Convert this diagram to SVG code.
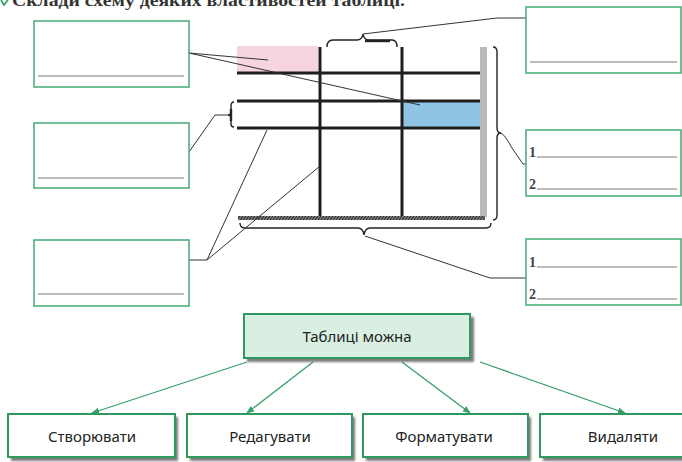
<svg xmlns="http://www.w3.org/2000/svg" width="682" height="462" viewBox="0 0 682 462">
<defs>
<style>
.box{fill:#fff;stroke:#4fb07e;stroke-width:1.6}
.wline{stroke:#666;stroke-width:0.9}
.num{font-family:"Liberation Serif",serif;font-size:14px;font-weight:bold;fill:#444}
.grid{stroke:#1e1e1e;stroke-width:3}
.thin{fill:none;stroke:#333;stroke-width:1}
.brace{fill:none;stroke:#222;stroke-width:1.4}
.node{fill:#fff;stroke:#2f9a5e;stroke-width:2}
.shadow{fill:#444;opacity:0.7}
.lbl{font-family:"Noto Sans",sans-serif;font-size:15px;fill:#222;text-anchor:middle}
.arr{stroke:#36a067;stroke-width:1.3;fill:none;marker-end:url(#ah)}
</style>
<marker id="ah" viewBox="0 0 10 10" refX="9" refY="5" markerWidth="8" markerHeight="8" orient="auto" markerUnits="userSpaceOnUse">
<path d="M0,1 L10,5 L0,9 z" fill="#36a067"/>
</marker>
<filter id="blur" x="-10%" y="-10%" width="130%" height="140%"><feGaussianBlur stdDeviation="1.2"/></filter>
<pattern id="hatch" width="3" height="4" patternUnits="userSpaceOnUse">
<rect width="3" height="4" fill="#777"/>
<path d="M0,4 L3,0" stroke="#222" stroke-width="1"/>
</pattern>
</defs>

<g id="title">
<path d="M1,0 L4,5 L8,0" fill="none" stroke="#3aa06a" stroke-width="1.8"/>
<text x="12" y="6" font-family="Liberation Serif,serif" font-weight="bold" font-size="17" fill="#333" textLength="393" lengthAdjust="spacingAndGlyphs">Склади схему деяких властивостей таблиці.</text>
</g>

<g id="table">
<rect x="237" y="46" width="81" height="27" fill="#f6d4e1"/>
<rect x="402" y="101" width="78" height="27" fill="#8fc4e4"/>
<rect x="480" y="47" width="7" height="170" fill="#b9b9be"/>
<line class="grid" x1="237" y1="73" x2="480" y2="73"/>
<line class="grid" x1="237" y1="101" x2="480" y2="101"/>
<line class="grid" x1="237" y1="128" x2="480" y2="128" stroke-width="2.5"/>
<line class="grid" x1="320" y1="47" x2="320" y2="217"/>
<line class="grid" x1="402" y1="47" x2="402" y2="217"/>
<rect x="238" y="216" width="247" height="4" fill="url(#hatch)"/>
</g>

<g id="braces">
<path class="brace" d="M327,47 Q327,40 333,40 L357,40 Q362,40 363,34 Q364,40 369,40 L392,40 Q397,40 397,47"/>
<path d="M365,41 L390,41" stroke="#222" stroke-width="2.4"/>
<path class="brace" d="M493,47 Q497,47 497,52 L497,128 Q497,133 501,133 Q497,133 497,138 L497,215 Q497,220 493,220"/>
<path class="brace" d="M240,223 Q240,228 245,228 L358,228 Q363,228 364,235 Q365,228 370,228 L486,228 Q491,228 491,223"/>
<path class="brace" d="M234,102 Q231,102 231,106 L231,112 Q231,115 228,115 Q231,115 231,118 L231,124 Q231,127 234,127"/>
<path d="M231,109 L231,121" stroke="#222" stroke-width="2.4"/>
</g>

<g id="connectors">
<path class="thin" d="M189,53 L268,60"/>
<path class="thin" d="M189,53 L420,105"/>
<path class="thin" d="M189,152 L215,115 L228,115"/>
<path class="thin" d="M189,260 L207,260 L267,130"/>
<path class="thin" d="M207,260 L320,166"/>
<path class="thin" d="M363,34 L497,18 L526,18"/>
<path class="thin" d="M501,133 Q505,135 512,148 L523,164 L526,164"/>
<path class="thin" d="M365,236 L490,278 L526,278"/>
<path class="arr" d="M247,362 L92,413"/>
<path class="arr" d="M313,362 L247,413"/>
<path class="arr" d="M402,362 L470,413"/>
<path class="arr" d="M480,362 L625,413"/>
</g>

<g id="box-left-1">
<rect class="box" x="34" y="21" width="155" height="66"/>
<line class="wline" x1="38" y1="76" x2="184" y2="76"/>
</g>
<g id="box-left-2">
<rect class="box" x="34" y="123" width="155" height="65"/>
<line class="wline" x1="38" y1="178" x2="184" y2="178"/>
</g>
<g id="box-left-3">
<rect class="box" x="34" y="240" width="155" height="66"/>
<line class="wline" x1="38" y1="294" x2="184" y2="294"/>
</g>
<g id="box-right-1">
<rect class="box" x="526" y="7" width="155" height="66"/>
<line class="wline" x1="530" y1="62" x2="677" y2="62"/>
</g>
<g id="box-right-2">
<rect class="box" x="526" y="130" width="155" height="66"/>
<text class="num" x="529" y="157">1</text>
<line class="wline" x1="537" y1="157" x2="677" y2="157"/>
<text class="num" x="529" y="189">2</text>
<line class="wline" x1="537" y1="189" x2="677" y2="189"/>
</g>
<g id="box-right-3">
<rect class="box" x="526" y="239" width="155" height="66"/>
<text class="num" x="529" y="267">1</text>
<line class="wline" x1="537" y1="267" x2="677" y2="267"/>
<text class="num" x="529" y="299">2</text>
<line class="wline" x1="537" y1="299" x2="677" y2="299"/>
</g>

<g id="node-root">
<rect class="shadow" x="247" y="317" width="227" height="45" filter="url(#blur)"/>
<rect class="node" x="244" y="314" width="226" height="44" style="fill:#d9efe2"/>
<text class="lbl" x="357" y="342" font-size="16">Таблиці можна</text>
</g>
<g id="node-create">
<rect class="shadow" x="11" y="417" width="167" height="44" filter="url(#blur)"/>
<rect class="node" x="8" y="414" width="167" height="43"/>
<text class="lbl" x="92" y="442">Створювати</text>
</g>
<g id="node-edit">
<rect class="shadow" x="190" y="417" width="165" height="44" filter="url(#blur)"/>
<rect class="node" x="187" y="414" width="165" height="43"/>
<text class="lbl" x="270" y="442">Редагувати</text>
</g>
<g id="node-format">
<rect class="shadow" x="366" y="417" width="165" height="44" filter="url(#blur)"/>
<rect class="node" x="363" y="414" width="165" height="43"/>
<text class="lbl" x="444" y="442">Форматувати</text>
</g>
<g id="node-delete">
<rect class="shadow" x="543" y="417" width="145" height="44" filter="url(#blur)"/>
<rect class="node" x="540" y="414" width="145" height="43"/>
<text class="lbl" x="623" y="442">Видаляти</text>
</g>
</svg>
